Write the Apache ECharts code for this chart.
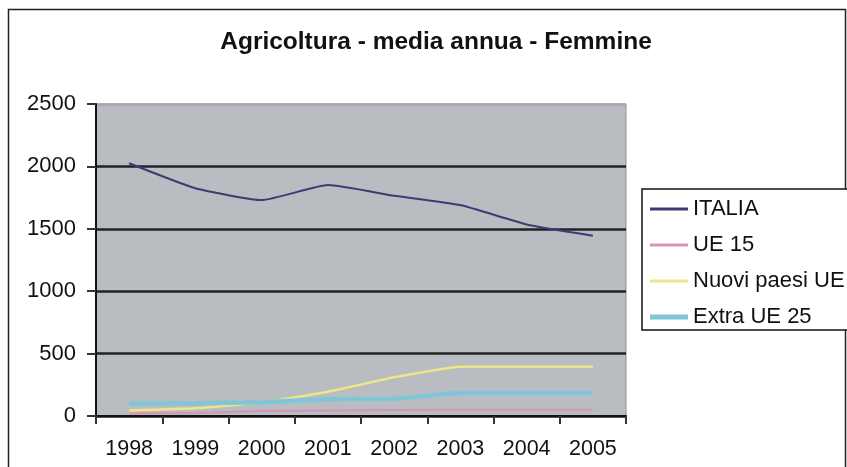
<!DOCTYPE html>
<html><head><meta charset="utf-8">
<script src="https://cdn.jsdelivr.net/npm/echarts@6/dist/echarts.min.js"></script>
<style>html,body{margin:0;padding:0;background:#fff}#c{width:847px;height:467px}</style>
</head><body><div id="c"></div>
<script>
var years = ['1998','1999','2000','2001','2002','2003','2004','2005'];
var italia = [2025, 1825, 1730, 1850, 1765, 1690, 1535, 1445];
var ue15 = [20, 25, 40, 45, 48, 50, 50, 50];
var nuovi = [45, 62, 110, 195, 310, 395, 395, 395];
var extra = [100, 102, 110, 135, 137, 185, 185, 185];
var yTicks = [0, 500, 1000, 1500, 2000, 2500];

var font = 'Liberation Sans, Arial, sans-serif';
var chart = echarts.init(document.getElementById('c'));
function line(name, data, color, width) {
  return { name: name, type: 'line', data: data, smooth: 0.15, symbol: 'none',
    lineStyle: { color: color, width: width }, itemStyle: { color: color } };
}
var thin = 'path://M0,0H38V3H0Z';
var thick = 'path://M0,0H38V5H0Z';
chart.setOption({
  animation: false,
  title: { text: 'Agricoltura - media annua - Femmine', left: 431, top: 25, textAlign: 'center',
    textStyle: { fontFamily: font, fontSize: 24.5, fontWeight: 'bold', color: '#111' } },
  grid: { left: 96, right: 221, top: 104, bottom: 51, show: true, backgroundColor: '#b9bcc0',
    borderColor: '#8f9194', borderWidth: 1 },
  legend: { orient: 'vertical', left: 642, top: 189, padding: [9, 40, 2, 8], itemGap: 14,
    itemWidth: 38, itemHeight: 14, borderColor: '#111', borderWidth: 1.5, backgroundColor: '#fff',
    textStyle: { fontFamily: font, fontSize: 22, color: '#111' },
    data: [{ name: 'ITALIA', icon: thin }, { name: 'UE 15', icon: thin },
      { name: 'Nuovi paesi UE', icon: thin }, { name: 'Extra UE 25', icon: thick }] },
  xAxis: { type: 'category', data: years, boundaryGap: true,
    axisLine: { lineStyle: { color: '#111', width: 2 } },
    axisTick: { show: true, length: 8, lineStyle: { color: '#333', width: 2 } },
    axisLabel: { fontFamily: font, fontSize: 21.5, color: '#111', margin: 22 } },
  yAxis: { type: 'value', min: yTicks[0], max: yTicks[yTicks.length - 1], interval: 500,
    axisLine: { show: true, lineStyle: { color: '#111', width: 2 } },
    axisTick: { show: true, length: 9, lineStyle: { color: '#333', width: 2 } },
    axisLabel: { fontFamily: font, fontSize: 22, color: '#111', margin: 20,
      formatter: function (v) { return String(v); } },
    splitLine: { show: true, lineStyle: { color: ['#222', '#222', '#222', '#222', '#222', '#a5a7aa'], width: 2.5 } } },
  series: [
    line('ITALIA', italia, '#3b3c72', 2),
    line('UE 15', ue15, '#d993b7', 2),
    line('Nuovi paesi UE', nuovi, '#efe588', 2.5),
    line('Extra UE 25', extra, '#80c6d8', 4.5)
  ],
  graphic: [{ type: 'polyline', silent: true,
    shape: { points: [[8.5, 470], [8.5, 9.5], [845.5, 9.5], [845.5, 470]] },
    style: { stroke: '#222', lineWidth: 1.5, fill: null } }]
});
</script></body></html>
